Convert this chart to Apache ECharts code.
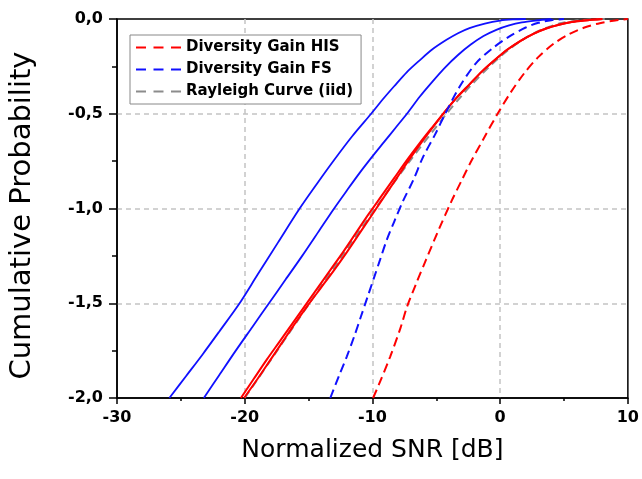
<!DOCTYPE html>
<html>
<head>
<meta charset="utf-8">
<script src="https://cdn.jsdelivr.net/npm/echarts@6/dist/echarts.min.js"></script>
<style>html,body{margin:0;padding:0;background:#fff}#c{width:642px;height:479px}</style>
</head>
<body>
<div id="c"></div>
<script>
// Tick labels / axes
const xTicks = [-30, -20, -10, 0, 10];
const yTicks = [-2.0, -1.5, -1.0, -0.5, 0.0];
const legendNames = ['Diversity Gain HIS', 'Diversity Gain FS', 'Rayleigh Curve (iid)'];

// Blue solid (leftmost)
const blueSolid1X = [-25.9, -24.6, -23.3, -22.0, -20.4, -19.0, -17.4, -15.7, -14.3, -13.0, -11.6, -10.1, -9.2, -8.3, -7.3, -6.3, -5.3, -4.2, -3.3, -2.4, -1.2, 0.0, 1.0, 2.0];
const blueSolid1Y = [-2.0, -1.885, -1.77, -1.65, -1.5, -1.35, -1.18, -1.0, -0.865, -0.744, -0.62, -0.5, -0.425, -0.355, -0.28, -0.218, -0.16, -0.11, -0.075, -0.048, -0.024, -0.008, -0.002, 0.0];
// Blue solid (second)
const blueSolid2X = [-23.2, -22.0, -20.7, -19.4, -18.1, -16.8, -15.5, -14.2, -13.0, -12.0, -11.0, -10.0, -9.1, -8.2, -7.3, -6.3, -5.3, -4.3, -3.3, -2.3, -1.3, -0.3, 0.7, 1.7, 2.8, 4.0];
const blueSolid2Y = [-2.0, -1.88, -1.75, -1.625, -1.5, -1.375, -1.25, -1.12, -1.0, -0.905, -0.812, -0.725, -0.65, -0.575, -0.5, -0.41, -0.33, -0.255, -0.19, -0.135, -0.09, -0.057, -0.034, -0.018, -0.008, 0.0];
// Red solid (two nearly identical measured curves)
const redSolid1X = [-20.3, -19.3, -18.3, -17.3, -16.3, -15.3, -14.3, -13.3, -12.3, -11.3, -10.3, -9.3, -8.3, -7.3, -6.3, -5.3, -4.4, -3.4, -2.4, -1.4, -0.4, 0.6, 1.6, 2.6, 3.6, 4.6, 5.6, 6.6, 8.0];
const redSolid2X = [-20.05, -19.0, -18.0, -17.05, -16.1, -15.1, -14.05, -13.0, -12.0, -11.0, -10.0, -9.05, -8.1, -7.15, -6.2, -5.25, -4.4, -3.4, -2.4, -1.4, -0.4, 0.6, 1.6, 2.6, 3.6, 4.6, 5.6, 6.6, 8.0];
const redSolidY = [-2.0, -1.9, -1.8, -1.705, -1.61, -1.515, -1.42, -1.325, -1.23, -1.13, -1.03, -0.935, -0.84, -0.745, -0.655, -0.57, -0.495, -0.415, -0.345, -0.275, -0.215, -0.16, -0.115, -0.078, -0.05, -0.03, -0.016, -0.008, 0.0];
// Rayleigh curve (gray dashed)
const rayleighX = [-20.0, -17.46, -14.93, -12.38, -9.77, -7.08, -4.2, -2.95, -2.28, -0.83, -0.01, 0.9, 1.99, 3.11, 4.33, 4.91, 5.77, 6.5, 6.97, 8.5];
const rayleighY = [-2.0, -1.75, -1.5, -1.25, -1.0, -0.75, -0.5, -0.4, -0.35, -0.25, -0.2, -0.15, -0.1, -0.06, -0.03, -0.02, -0.01, -0.005, -0.003, 0.0];
// Diversity Gain FS (blue dashed)
const fsX = [-13.3, -12.6, -12.0, -11.4, -10.9, -10.4, -9.9, -9.4, -8.9, -8.3, -7.6, -6.8, -6.05, -5.1, -4.3, -3.2, -1.9, -0.6, 0.7, 2.0, 3.0, 4.0, 5.0];
const fsY = [-2.0, -1.88, -1.78, -1.67, -1.57, -1.47, -1.37, -1.27, -1.17, -1.07, -0.96, -0.85, -0.73, -0.61, -0.5, -0.36, -0.234, -0.155, -0.093, -0.045, -0.02, -0.006, 0.0];
// Diversity Gain HIS (red dashed)
const hisX = [-9.95, -9.5, -8.6, -7.8, -7.3, -6.6, -5.8, -4.8, -3.8, -3.0, -2.3, -1.2, -0.2, 0.8, 1.9, 3.0, 4.2, 5.4, 6.6, 7.8, 9.0, 10.0];
const hisY = [-2.0, -1.93, -1.78, -1.63, -1.52, -1.4, -1.27, -1.11, -0.96, -0.85, -0.755, -0.62, -0.5, -0.39, -0.285, -0.2, -0.13, -0.08, -0.045, -0.022, -0.008, 0.0];

const zip = (xs, ys) => xs.map((x, i) => [x, ys[i]]);
const RED = '#ff0000', BLUE = '#1010ff', GRAY = '#8c8c8c';

function lineSeries(name, xs, ys, color, type, width, z) {
  return {
    name, type: 'line', data: zip(xs, ys), showSymbol: false, symbol: 'none',
    smooth: 0.3, z, silent: true, animation: false,
    lineStyle: { color, type, width }, itemStyle: { color }
  };
}

const gridLine = { show: true, showMinLine: false, showMaxLine: false, lineStyle: { color: '#c4c4c4', type: [5, 4], width: 1.5 } };

const chart = echarts.init(document.getElementById('c'), null, { renderer: 'canvas' });
chart.setOption({
  backgroundColor: '#fff',
  animation: false,
  grid: { left: 115, right: 12.5, top: 19, bottom: 81, show: true, borderColor: '#000', borderWidth: 1.5, backgroundColor: 'transparent' },
  legend: {
    data: legendNames, orient: 'vertical', left: 130, top: 35, align: 'left',
    padding: [5, 8, 5, 5], itemGap: 7, itemWidth: 45, itemHeight: 14,
    borderColor: '#888', borderWidth: 1, backgroundColor: '#fff',
    lineStyle: { type: [10, 7.5], width: 2 },
    itemStyle: { color: 'rgba(0,0,0,0)', borderColor: 'rgba(0,0,0,0)', borderWidth: 0, opacity: 0 },
    textStyle: { fontFamily: 'DejaVu Sans', fontWeight: 'bold', fontSize: 15, color: '#000' }
  },
  xAxis: {
    type: 'value', min: xTicks[0], max: xTicks[xTicks.length - 1], interval: 10,
    name: 'Normalized SNR [dB]', nameLocation: 'middle', nameGap: 40,
    nameTextStyle: { fontFamily: 'DejaVu Sans', fontSize: 25, color: '#000' },
    axisLine: { onZero: false, lineStyle: { color: '#000', width: 1.5 } },
    axisTick: { show: true, inside: false, length: 6, lineStyle: { color: '#000', width: 1.5 } },
    minorTick: { show: true, splitNumber: 2, length: 3, lineStyle: { color: '#000', width: 1.5 } },
    axisLabel: { margin: 12, fontFamily: 'DejaVu Sans', fontWeight: 'bold', fontSize: 16, color: '#000' },
    splitLine: gridLine
  },
  yAxis: {
    type: 'value', min: yTicks[0], max: yTicks[yTicks.length - 1], interval: 0.5,
    name: 'Cumulative Probability', nameLocation: 'middle', nameGap: 80,
    nameTextStyle: { fontFamily: 'DejaVu Sans', fontSize: 29, color: '#000', padding: [0, 0, 0, -14] },
    axisLine: { onZero: false, lineStyle: { color: '#000', width: 1.5 } },
    axisTick: { show: true, inside: false, length: 8, lineStyle: { color: '#000', width: 1.5 } },
    minorTick: { show: true, splitNumber: 2, length: 5, lineStyle: { color: '#000', width: 1.5 } },
    axisLabel: { margin: 14, fontFamily: 'DejaVu Sans', fontWeight: 'bold', fontSize: 16, color: '#000',
      formatter: v => v.toFixed(1).replace('.', ',').replace('-0,0', '0,0') },
    splitLine: gridLine
  },
  series: [
    lineSeries('FS measured 1', blueSolid1X, blueSolid1Y, BLUE, 'solid', 1.8, 2),
    lineSeries('FS measured 2', blueSolid2X, blueSolid2Y, BLUE, 'solid', 1.8, 2),
    lineSeries('Rayleigh Curve (iid)', rayleighX, rayleighY, GRAY, [8, 5], 2, 3),
    lineSeries('HIS measured 1', redSolid1X, redSolidY, RED, 'solid', 2, 4),
    lineSeries('HIS measured 2', redSolid2X, redSolidY, RED, 'solid', 2, 4),
    lineSeries('Diversity Gain FS', fsX, fsY, BLUE, [9, 5], 2, 5),
    lineSeries('Diversity Gain HIS', hisX, hisY, RED, [9, 5], 2, 5)
  ]
});
</script>
</body>
</html>
